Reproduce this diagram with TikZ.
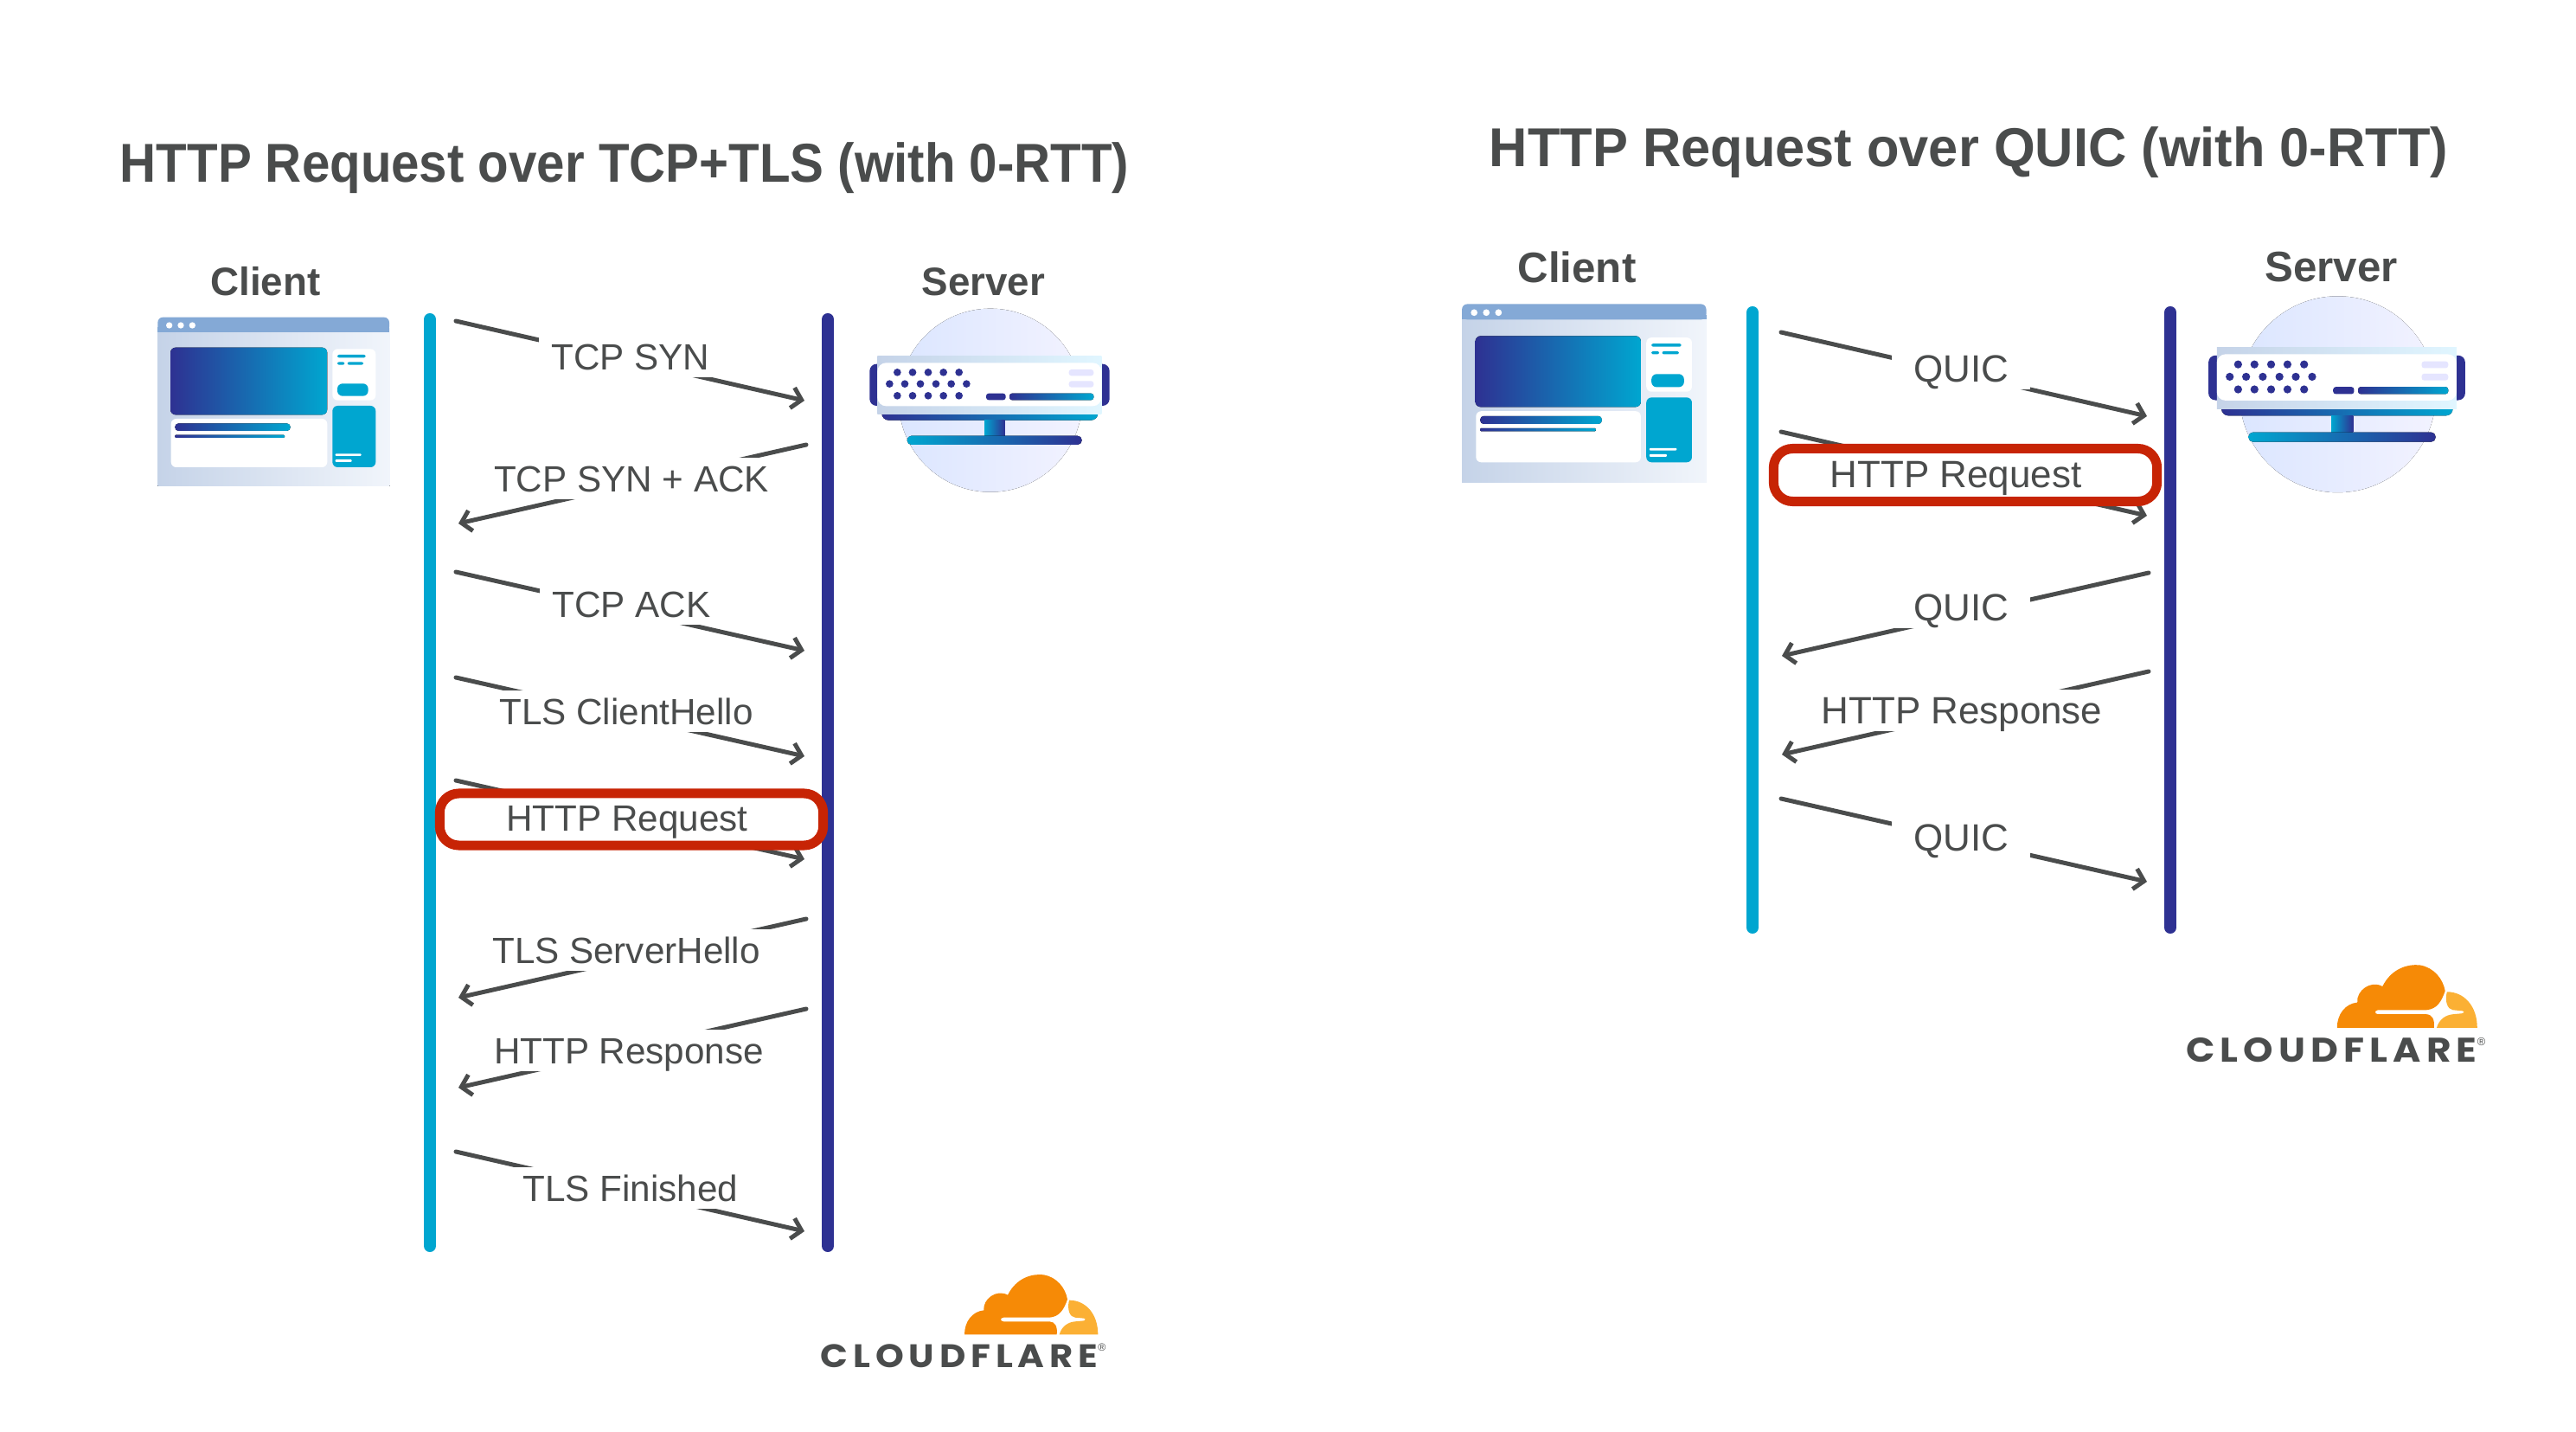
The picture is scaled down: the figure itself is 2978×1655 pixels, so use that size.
\documentclass[tikz,border=0pt]{standalone}
\usepackage{fontspec}
\setmainfont{Liberation Sans}
\newfontfamily\cffont[LetterSpace=14]{Poppins}
\usetikzlibrary{arrows.meta, positioning}

\definecolor{inktxt}{HTML}{4A4C4C}
\definecolor{cyanline}{HTML}{00A6D0}
\definecolor{navyline}{HTML}{2E3192}
\definecolor{redring}{HTML}{C72405}
\definecolor{cforange}{HTML}{F68A06}
\definecolor{cfyellow}{HTML}{FBB034}
\definecolor{paleleft}{HTML}{C5D3E8}
\definecolor{paleright}{HTML}{F1F5FB}
\definecolor{barblue}{HTML}{84A9D6}

\newcommand{\clienticon}[3]{%
  \begin{scope}[shift={(#1,#2)}, scale=#3/3]
    \fill[left color=paleleft, right color=paleright] (97,300) -- (902,300) -- (902,845) -- (97,845) -- cycle;
    \fill[barblue, rounded corners=0.06cm] (97,311) -- (97,260) -- (900,260) -- (900,311) -- cycle;
    \fill[barblue] (97,295) rectangle (900,311);
    \fill[white] (137,288) circle[radius=11] (177,288) circle[radius=11] (217,288) circle[radius=11];
    \fill[left color=navyline, right color=cyanline, rounded corners=0.06cm] (141,365) rectangle (685,598);
    \fill[white, rounded corners=0.06cm] (703,370) rectangle (853,548);
    \fill[cyanline, rounded corners=0.02cm] (720,390) rectangle (818,400) (720,415) rectangle (745,425) (755,415) rectangle (810,425);
    \fill[cyanline, rounded corners=0.06cm] (720,490) rectangle (827,533);
    \fill[cyanline, rounded corners=0.06cm] (703,567) rectangle (853,780);
    \fill[white, rounded corners=0.01cm] (713,733) rectangle (803,741) (713,753) rectangle (770,762);
    \fill[white, rounded corners=0.06cm] (143,612) rectangle (685,780);
    \fill[left color=navyline, right color=cyanline, rounded corners=0.04cm] (157,628) rectangle (557,654);
    \fill[left color=navyline, right color=cyanline, rounded corners=0.01cm] (157,668) rectangle (537,678);
  \end{scope}}

\newcommand{\servericon}[3]{%
  \begin{scope}[shift={(#1,#2)}, scale=#3/3]
    \fill[left color=blue!70!cyan!14, right color=blue!5] (495,518) circle[radius=318];
    \fill[navyline, rounded corners=0.08cm] (76,392) rectangle (130,537) (855,392) rectangle (908,537);
    \fill[left color=navyline, right color=cyanline, rounded corners=0.08cm] (118,540) rectangle (868,587);
    \fill[left color=paleleft, right color=blue!30!cyan!12] (103,365) rectangle (880,565);
    \fill[white, rounded corners=0.1cm] (103,388) rectangle (880,538);
    \fill[left color=cyanline, right color=navyline] (474,587) rectangle (545,642);
    \fill[left color=cyanline, right color=navyline, rounded corners=0.05cm] (206,641) rectangle (812,672);
    \fill[navyline] (172,421) circle[radius=13] (225,421) circle[radius=13] (279,421) circle[radius=13] (332,421) circle[radius=13] (386,421) circle[radius=13];
    \fill[navyline] (145,461) circle[radius=13] (198,461) circle[radius=13] (252,461) circle[radius=13] (306,461) circle[radius=13] (359,461) circle[radius=13] (412,461) circle[radius=13];
    \fill[navyline] (172,502) circle[radius=13] (225,502) circle[radius=13] (279,502) circle[radius=13] (332,502) circle[radius=13] (386,502) circle[radius=13];
    \fill[navyline, rounded corners=0.03cm] (480,494) rectangle (548,517);
    \fill[left color=navyline, right color=cyanline, rounded corners=0.03cm] (561,494) rectangle (853,517);
    \fill[blue!10, rounded corners=0.03cm] (767,411) rectangle (853,433) (767,451) rectangle (853,473);
  \end{scope}}

\newcommand{\cfmark}[4]{%
  \begin{scope}[shift={(#1,#2)}, scale=#3/3]
    \fill[cforange] (585,277) .. controls (585,232) and (612,197) .. (652,193)
      .. controls (648,155) and (695,118) .. (735,140)
      .. controls (765,80) and (820,65) .. (860,70)
      .. controls (905,78) and (935,115) .. (942,155)
      .. controls (930,190) and (915,215) .. (880,218)
      -- (720,218) .. controls (708,220) and (708,230) .. (720,232)
      -- (880,232) .. controls (900,233) and (908,250) .. (905,277) -- cycle;
    \fill[cfyellow] (948,158) .. controls (1005,158) and (1048,205) .. (1048,277)
      -- (914,277) .. controls (922,248) and (945,234) .. (968,232)
      -- (1000,229) .. controls (1006,226) and (1006,222) .. (1000,221)
      -- (968,218) .. controls (950,216) and (940,190) .. (948,158) -- cycle;
    \node[transform shape, xscale=3.33, yscale=3, inner sep=0pt, text=inktxt, font=\cffont\fontsize{10.7}{12}\selectfont\bfseries] (#4word) at (567,351) {CLOUDFLARE};
    \node[transform shape, scale=3, inner sep=0pt, text=inktxt, font=\fontsize{3.5}{4}\selectfont] (#4reg) at (1062,323) {®};
  \end{scope}}

\begin{document}
\begin{tikzpicture}[
    x=0.01cm, y=-0.01cm,
    titlelbl/.style={text=inktxt, inner sep=0pt, xscale=0.92, font=\fontsize{18}{20}\selectfont\bfseries},
    sidelbl/.style={text=inktxt, inner sep=0pt, font=\fontsize{13}{16}\selectfont\bfseries},
    msglbl/.style={fill=white, text=inktxt, font=\fontsize{12}{14}\selectfont,
                   text height=0.30cm, text depth=0pt, inner xsep=0.15cm, inner ysep=0.09cm},
    quiclbl/.style={msglbl, inner xsep=0.25cm},
    ringlbl/.style={text=inktxt, font=\fontsize{12}{14}\selectfont, text height=0.30cm, text depth=0pt, inner sep=0pt},
    ringbox/.style={rectangle, rounded corners=0.22cm, draw=redring, fill=white, line width=0.11cm, inner sep=0pt},
    cyanlife/.style={draw=cyanline, line width=0.14cm, line cap=round},
    navylife/.style={draw=navyline, line width=0.14cm, line cap=round},
    msg/.style={draw=inktxt, line width=0.05cm, line cap=round, -{Straight Barb[length=0.11cm, width=0.24cm]}}
]
  \useasboundingbox (0,0) rectangle (2978,1655);

  % left panel
  \node[titlelbl] (tcptitle) at (722,194) {HTTP Request over TCP+TLS (with 0-RTT)};
  \node[sidelbl] (tcpclient) at (307,325) {Client};
  \node[sidelbl] (tcpserver) at (1137,326) {Server};

  \coordinate (tcpctop) at (497,369);
  \coordinate (tcpcbot) at (497,1440);
  \coordinate (tcpstop) at (957,369);
  \coordinate (tcpsbot) at (957,1440);
  \draw[cyanlife] (tcpctop) -- (tcpcbot);
  \draw[navylife] (tcpstop) -- (tcpsbot);

  \coordinate (syna) at (527,371);   \coordinate (synb) at (930,463);
  \coordinate (acka) at (932,514);   \coordinate (ackb) at (530,605);
  \coordinate (tacka) at (527,661);  \coordinate (tackb) at (930,752);
  \coordinate (cha) at (527,783);    \coordinate (chb) at (930,874);
  \coordinate (reqa) at (527,902);   \coordinate (reqb) at (930,993);
  \coordinate (sha) at (932,1062);   \coordinate (shb) at (530,1153);
  \coordinate (respa) at (932,1166); \coordinate (respb) at (530,1257);
  \coordinate (fina) at (527,1331);  \coordinate (finb) at (930,1423);

  \draw[msg] (syna) -- (synb);
  \draw[msg] (acka) -- (ackb);
  \draw[msg] (tacka) -- (tackb);
  \draw[msg] (cha) -- (chb);
  \draw[msg] (reqa) -- (reqb);
  \draw[msg] (sha) -- (shb);
  \draw[msg] (respa) -- (respb);
  \draw[msg] (fina) -- (finb);

  \node[msglbl] (synlbl) at (729,412) {TCP SYN};
  \node[msglbl] (acklbl) at (730,553) {TCP SYN + ACK};
  \node[msglbl] (tacklbl) at (730,698) {TCP ACK};
  \node[msglbl] (chlbl) at (724,822) {TLS ClientHello};
  \node[ringbox, minimum width=4.43cm, minimum height=0.60cm] (reqring) at (730,947) {};
  \node[ringlbl] (reqlbl) at (725,945) {HTTP Request};
  \node[msglbl] (shlbl) at (724,1098) {TLS ServerHello};
  \node[msglbl] (resplbl) at (727,1214) {HTTP Response};
  \node[msglbl] (finlbl) at (729,1373) {TLS Finished};

  \clienticon{150}{280}{1}
  \servericon{980}{290}{1}
  \cfmark{920}{1450}{1}{tcp}

  % right panel
  \node[titlelbl, xscale=1.054] (quictitle) at (2276,176) {HTTP Request over QUIC (with 0-RTT)};
  \node[sidelbl, font=\fontsize{14}{16}\selectfont\bfseries] (quicclient) at (1823,309) {Client};
  \node[sidelbl, font=\fontsize{14}{16}\selectfont\bfseries] (quicserver) at (2695,309) {Server};

  \coordinate (quicctop) at (2026,361);
  \coordinate (quiccbot) at (2026,1072);
  \coordinate (quicstop) at (2509,361);
  \coordinate (quicsbot) at (2509,1072);
  \draw[cyanlife] (quicctop) -- (quiccbot);
  \draw[navylife] (quicstop) -- (quicsbot);

  \coordinate (qia) at (2059,384);   \coordinate (qib) at (2482,481);
  \coordinate (qreqa) at (2059,499); \coordinate (qreqb) at (2482,596);
  \coordinate (qsa) at (2484,662);   \coordinate (qsb) at (2060,758);
  \coordinate (qrespa) at (2484,776);\coordinate (qrespb) at (2060,872);
  \coordinate (qfa) at (2059,923);   \coordinate (qfb) at (2482,1019);

  \draw[msg] (qia) -- (qib);
  \draw[msg] (qreqa) -- (qreqb);
  \draw[msg] (qsa) -- (qsb);
  \draw[msg] (qrespa) -- (qrespb);
  \draw[msg] (qfa) -- (qfb);

  \node[quiclbl, font=\fontsize{12.5}{14}\selectfont] (qilbl) at (2267,426) {QUIC};
  \node[ringbox, minimum width=4.43cm, minimum height=0.61cm] (qreqring) at (2272,549) {};
  \node[ringlbl, font=\fontsize{12.5}{14}\selectfont] (qreqlbl) at (2261,548) {HTTP Request};
  \node[quiclbl, font=\fontsize{12.5}{14}\selectfont] (qslbl) at (2267,702) {QUIC};
  \node[msglbl, font=\fontsize{12.5}{14}\selectfont] (qresplbl) at (2268,821) {HTTP Response};
  \node[quiclbl, font=\fontsize{12.5}{14}\selectfont] (qflbl) at (2267,968) {QUIC};

  \clienticon{1656}{260}{1.055}
  \servericon{2526}{271}{1.07}
  \cfmark{2497}{1091}{1.05}{quic}
\end{tikzpicture}
\end{document}
